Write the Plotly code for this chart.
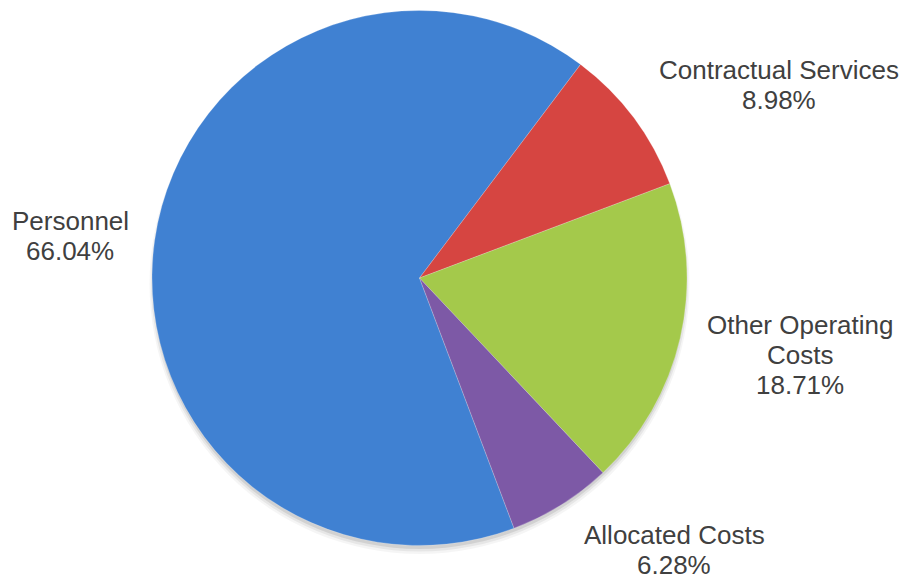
import plotly.graph_objects as go

# Budget breakdown by expense category (percent of total)
categories = ["Personnel", "Contractual Services", "Other Operating Costs", "Allocated Costs"]
shares = [66.04, 8.98, 18.71, 6.28]
slice_colors = ["#4081D2", "#D64541", "#A4C94B", "#7D59A6"]

# Wrapped text used for the outside labels
label_names = ["Personnel", "Contractual Services", "Other Operating<br>Costs", "Allocated Costs"]

W, H = 907, 579
dom_x = [152 / W, 687 / W]
dom_y = [(H - 547) / H, (H - 9) / H]

fig = go.Figure()

# soft drop shadow under the pie, offset downwards
cx = (dom_x[0] + dom_x[1]) / 2
cy = (dom_y[0] + dom_y[1]) / 2
r_px = 267
for grow, shift, alpha in [(3, 6, 0.04), (1.5, 5, 0.06), (0, 4, 0.09)]:
    rx = (r_px + grow) / W
    ry = (r_px + grow) / H
    dy = shift / H
    fig.add_shape(type="circle", xref="paper", yref="paper",
                  x0=cx - rx, x1=cx + rx, y0=cy - ry - dy, y1=cy + ry - dy,
                  line=dict(width=0), fillcolor=f"rgba(0,0,0,{alpha})", layer="below")

fig.add_trace(go.Pie(
    labels=categories,
    values=shares,
    sort=False,
    direction="clockwise",
    rotation=159.3,
    marker=dict(colors=slice_colors, line=dict(color="rgba(255,255,255,0.3)", width=0.7)),
    textinfo="none",
    hoverinfo="label+percent",
    domain=dict(x=dom_x, y=dom_y),
    showlegend=False,
))

# label anchor points (pixel centres of the first text line)
label_pos = {
    "Personnel": (70, 221),
    "Contractual Services": (779, 70),
    "Other Operating Costs": (800, 325),
    "Allocated Costs": (674, 535),
}
line_gap = 30
for cat, name, val in zip(categories, label_names, shares):
    lines = name.split("<br>") + [f"{val:.2f}%"]
    px, py = label_pos[cat]
    for i, txt in enumerate(lines):
        fig.add_annotation(
            x=px / W, y=(H - (py + i * line_gap)) / H,
            xref="paper", yref="paper",
            text=txt, showarrow=False,
            xanchor="center", yanchor="middle",
            font=dict(family="Liberation Sans, Arial, sans-serif", size=26, color="#404040"),
        )

fig.update_layout(
    width=W, height=H,
    margin=dict(l=0, r=0, t=0, b=0),
    paper_bgcolor="white",
    plot_bgcolor="white",
)

fig.write_html("out.html")
